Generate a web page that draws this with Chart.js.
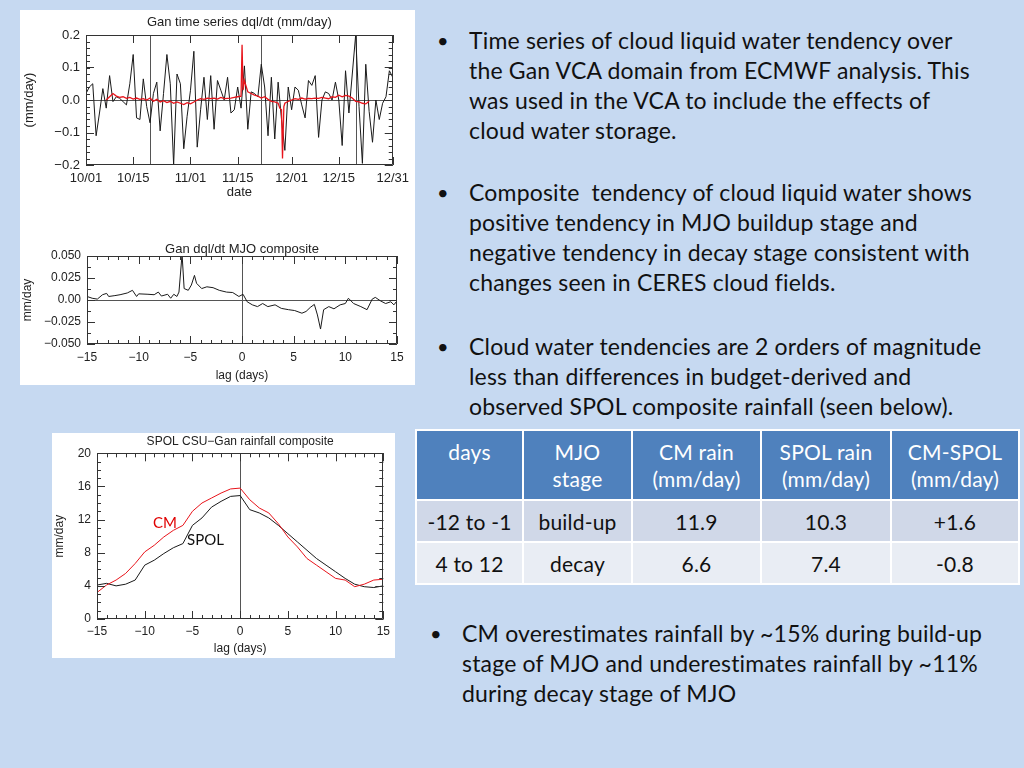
<!DOCTYPE html>
<html>
<head>
<meta charset="utf-8">
<script src="https://cdn.jsdelivr.net/npm/chart.js@4.4.1/dist/chart.umd.min.js"></script>
<style>
  html,body{margin:0;padding:0}
  body{width:1024px;height:768px;background:#c6d9f1;position:relative;overflow:hidden;
       font-family:Lato,"Open Sans",sans-serif;color:#111}
  .panel{position:absolute;background:#fff}
  canvas{position:absolute}
  .bul{position:absolute;font-size:23px;letter-spacing:0.18px;line-height:30px;white-space:nowrap}
  .bul .dot{position:absolute;left:-32px;top:0;font-size:20px}
  .lbl{position:absolute;font-size:15px;white-space:nowrap}
  table{position:absolute;left:415px;top:429px;border-collapse:collapse;table-layout:fixed;
        font-size:21px;letter-spacing:0.2px;text-align:center}
  td,th{border:2px solid #fff;padding:0}
  th{background:#4f81bd;color:#fff;font-weight:normal;vertical-align:top;height:70px;line-height:27px;padding-top:7px;box-sizing:border-box}
  tr.r1 td{background:#d0d8e8;height:40px}
  tr.r2 td{background:#e9edf4;height:40px}
</style>
</head>
<body>

<div class="panel" style="left:20px;top:10px;width:395px;height:375px">
  <canvas id="cTs" width="395" height="190" style="left:0;top:0"></canvas>
  <canvas id="cComp" width="395" height="150" style="left:0;top:225px"></canvas>
</div>

<div class="panel" style="left:52px;top:433px;width:343px;height:225px">
  <canvas id="cRain" width="343" height="225" style="left:0;top:0"></canvas>
  <span class="lbl" style="left:101px;top:80px;color:#e00000">CM</span>
  <span class="lbl" style="left:135px;top:97px;color:#111">SPOL</span>
</div>

<div class="bul" style="left:469px;top:25px"><span class="dot">•</span>Time series of cloud liquid water tendency over<br>the Gan VCA domain from ECMWF analysis. This<br>was used in the VCA to include the effects of<br>cloud water storage.</div>
<div class="bul" style="left:469px;top:177px"><span class="dot">•</span>Composite&nbsp; tendency of cloud liquid water shows<br>positive tendency in MJO buildup stage and<br>negative tendency in decay stage consistent with<br>changes seen in CERES cloud fields.</div>
<div class="bul" style="left:469px;top:331px"><span class="dot">•</span>Cloud water tendencies are 2 orders of magnitude<br>less than differences in budget-derived and<br>observed SPOL composite rainfall (seen below).</div>
<div class="bul" style="left:462px;top:618px"><span class="dot">•</span>CM overestimates rainfall by ~15% during build-up<br>stage of MJO and underestimates rainfall by ~11%<br>during decay stage of MJO</div>

<table>
  <colgroup><col style="width:107px"><col style="width:109px"><col style="width:129px"><col style="width:130px"><col style="width:128px"></colgroup>
  <tr><th>days</th><th>MJO<br>stage</th><th>CM rain<br>(mm/day)</th><th>SPOL rain<br>(mm/day)</th><th>CM-SPOL<br>(mm/day)</th></tr>
  <tr class="r1"><td>-12 to -1</td><td>build-up</td><td>11.9</td><td>10.3</td><td>+1.6</td></tr>
  <tr class="r2"><td>4 to 12</td><td>decay</td><td>6.6</td><td>7.4</td><td>-0.8</td></tr>
</table>

<script>
/* ---------- data ---------- */
// daily dql/dt at Gan, day 0 = 10/01 (black)
const tsValues = [0.02,0.04,0.05,-0.11,-0.04,0.035,-0.025,0.075,-0.005,0.01,
  0.005,-0.005,-0.015,0.05,0.14,-0.055,-0.06,0.065,-0.02,-0.07,
  0.02,0.055,-0.095,0.02,0.14,0.05,-0.2,0.08,0.05,-0.15,
  -0.05,0.03,0.15,-0.145,-0.03,0.07,-0.06,0.075,-0.09,0.06,
  0.03,0.0,0.07,-0.04,-0.03,0.04,-0.025,0.105,-0.09,0.025,
  0.02,0.01,0.11,0.04,-0.11,0.07,-0.12,0.055,-0.06,-0.155,
  0.04,-0.03,0.04,0.03,-0.015,-0.055,0.06,0.045,0.075,-0.115,
  0.0,0.025,0.02,0.0,0.055,0.0,-0.14,0.09,-0.04,0.08,
  0.2,-0.02,-0.195,0.11,-0.035,-0.13,0.0,-0.06,-0.01,0.01,
  0.09,0.07];
// red series (day, value)
const redDay = [6,7,8,9,10,11,12,13,14,15,16,17,18,19,20,21,22,23,24,25,
  26,27,28,29,30,31,32,33,34,35,36,37,38,39,40,41,42,43,44,45,
  46,46.3,46.6,47,48,49,50,51,52,53,54,55,56,57,57.5,58,58.3,58.7,59,60,
  61,62,63,64,65,66,67,68,69,70,71,72,73,74,75,76,77,78,79,80,
  81,82,83,84];
const redVal = [0.0,0.01,0.02,0.012,0.008,0.01,0.005,0.008,0.003,0.006,
  0.002,0.004,0.0,0.006,-0.004,0.002,-0.006,-0.002,-0.008,-0.004,
  -0.01,-0.006,-0.01,-0.014,-0.008,-0.012,-0.006,0.0,0.004,0.002,
  0.006,0.004,0.006,0.003,0.008,0.004,0.005,0.006,0.008,0.01,
  0.012,0.17,0.03,0.06,0.025,0.02,0.015,0.012,0.006,0.01,
  0.002,-0.004,-0.006,-0.01,-0.025,-0.03,-0.18,-0.02,-0.01,-0.004,
  0.0,0.004,0.002,0.006,0.003,0.005,0.004,0.006,0.005,0.008,
  0.006,0.004,0.01,0.008,0.015,0.01,0.014,0.012,0.006,-0.004,
  -0.006,-0.01,-0.012,-0.004];
const dateTickDays = [0,14,31,45,61,75,91];
const dateTickLabels = ['10/01','10/15','11/01','11/15','12/01','12/15','12/31'];
const tsRefDays = [19,52,80];

// MJO composite dql/dt
const compLag = [-15,-14.5,-14,-13.5,-13.1,-12.9,-12.3,-11.8,-11.1,-10.6,-10.2,-10,-9.1,-8.5,-8.1,-7.8,-7.2,-6.9,-6.6,-6.3,
  -6.1,-5.8,-5.6,-5.2,-4.9,-4.6,-4.4,-3.9,-3.4,-2.8,-2.2,-1.5,-0.9,-0.3,0.1,0.5,1,1.5,2,2.5,
  3.2,3.8,4.5,5.1,5.8,6.2,6.6,7,7.3,7.6,7.9,8.4,8.9,9.5,10,10.3,10.8,11.5,12.1,12.6,
  12.9,13.4,13.9,14.4,14.7,15];
const compVal = [0.004,0.002,0.001,0.006,0.0075,0.004,0.005,0.006,0.008,0.011,0.004,0.007,0.0065,0.006,0.009,0.0045,0.0065,0.002,0.0065,0.004,
  0.009,0.052,0.013,0.011,0.017,0.028,0.019,0.013,0.015,0.014,0.011,0.009,0.0085,0.004,0.0065,-0.002,-0.0055,-0.0075,-0.004,-0.0075,
  -0.0055,-0.0095,-0.011,-0.012,-0.015,-0.013,-0.0085,-0.005,-0.017,-0.033,-0.011,-0.0075,-0.01,-0.0055,-0.004,0.002,-0.004,-0.0075,-0.011,0.001,
  0.003,-0.001,-0.004,-0.002,-0.0055,-0.001];
const compYLabels = ['\u22120.050','\u22120.025','0.00','0.025','0.050'];

// SPOL / CM rainfall composite
const rainLag = [-15,-14,-13,-12,-11,-10,-9,-8,-7,-6,-5,-4,-3,-2,-1,0,1,2,3,4,5,6,7,8,9,10,11,12,13,14,15];
const cmRain = [3.2,4.1,4.7,5.5,6.7,8.1,8.9,9.9,10.7,11.3,13.0,14.0,14.6,15.2,15.7,15.8,14.4,13.4,12.8,11.5,9.9,8.7,7.3,6.5,5.7,4.9,4.7,3.9,4.2,4.7,4.8];
const spolRain = [4.1,4.3,4.0,4.2,4.7,6.5,7.1,7.9,8.6,9.1,11.3,12.2,13.5,14.2,14.8,14.9,13.2,12.8,12.2,11.3,10.3,9.3,8.3,7.3,6.5,5.7,4.9,4.2,3.9,3.8,4.0];

/* ---------- helpers ---------- */
const FONT = 'Liberation Sans';
const INK = '#222';
const minus = s => String(s).replace('-', '\u2212');
const pts = (xs, ys) => xs.map((x, i) => ({ x, y: ys[i] }));

// IDL-like frame: box, inward ticks on all sides, reference lines
const idlFrame = {
  id: 'idlFrame',
  beforeDatasetsDraw(chart, args, o){
    const { ctx, chartArea: a, scales: { x, y } } = chart;
    ctx.save();
    ctx.strokeStyle = '#555'; ctx.lineWidth = 1;
    ctx.beginPath();
    (o.xLines || []).forEach(v => { const p = Math.round(x.getPixelForValue(v)) + .5; ctx.moveTo(p, a.top); ctx.lineTo(p, a.bottom); });
    (o.yLines || []).forEach(v => { const p = Math.round(y.getPixelForValue(v)) + .5; ctx.moveTo(a.left, p); ctx.lineTo(a.right, p); });
    ctx.stroke();
    ctx.restore();
  },
  afterDatasetsDraw(chart, args, o){
    const { ctx, chartArea: a, scales: { x, y } } = chart;
    ctx.save();
    ctx.strokeStyle = '#333'; ctx.lineWidth = 1;
    ctx.beginPath();
    ctx.rect(Math.round(a.left) + .5, Math.round(a.top) + .5, Math.round(a.width) - 1, Math.round(a.height) - 1);
    const tx = (v, len) => { const p = Math.round(x.getPixelForValue(v)) + .5;
      ctx.moveTo(p, a.bottom); ctx.lineTo(p, a.bottom - len); ctx.moveTo(p, a.top); ctx.lineTo(p, a.top + len); };
    const ty = (v, len) => { const p = Math.round(y.getPixelForValue(v)) + .5;
      ctx.moveTo(a.left, p); ctx.lineTo(a.left + len, p); ctx.moveTo(a.right, p); ctx.lineTo(a.right - len, p); };
    x.ticks.forEach(t => tx(t.value, 8));
    y.ticks.forEach(t => ty(t.value, 8));
    if (o.xMinor){ const n = Math.round((x.max - x.min) / o.xMinor); for (let i = 0; i <= n; i++) tx(x.min + i * o.xMinor, 4); }
    if (o.yMinor){ const n = Math.round((y.max - y.min) / o.yMinor); for (let i = 0; i <= n; i++) ty(y.min + i * o.yMinor, 4); }
    ctx.stroke();
    ctx.restore();
  }
};

function axes(o){
  return {
    x: { type:'linear', min:o.xMin, max:o.xMax,
      grid:{ display:false, drawTicks:false }, border:{ display:false },
      afterBuildTicks: o.xTicks ? s => { s.ticks = o.xTicks.map(v => ({ value:v })); } : undefined,
      afterFit: s => { s.height = o.xH; },
      ticks:{ color:INK, font:{ family:FONT, size:o.fs }, padding:o.xPad, maxRotation:0, autoSkip:false,
        stepSize:o.xStep, callback:o.xCb },
      title:{ display:true, text:o.xTitle, color:INK, font:{ family:FONT, size:o.fs }, padding:{ top:0, bottom:o.xtPad } } },
    y: { type:'linear', min:o.yMin, max:o.yMax,
      grid:{ display:false, drawTicks:false }, border:{ display:false },
      afterBuildTicks: o.yTicks ? s => { s.ticks = o.yTicks.map(v => ({ value:v })); } : undefined,
      afterFit: s => { s.width = o.yW; },
      ticks:{ color:INK, font:{ family:FONT, size:o.fs }, padding:6, stepSize:o.yStep, callback:o.yCb },
      title:{ display:true, text:o.yTitle, color:INK, font:{ family:FONT, size:o.fs }, padding:{ top:o.ytPad, bottom:0 } } }
  };
}

function baseOpts(o){
  return {
    responsive:false, animation:false, devicePixelRatio:1,
    layout:{ padding:{ left:0, right:o.padR, top:0, bottom:0 } },
    plugins:{
      legend:{ display:false }, tooltip:{ enabled:false },
      title:{ display:true, fullSize:false, text:o.title, color:INK, font:{ family:FONT, size:o.tfs, weight:'normal' },
        padding:{ top:o.tTop, bottom:o.tBot } },
      idlFrame:{ xLines:o.xLines, yLines:o.yLines, xMinor:o.xMinor, yMinor:o.yMinor }
    },
    scales: axes(o)
  };
}

const line = (data, color, w) => ({ data, borderColor:color, borderWidth:w || 1, pointRadius:0, tension:0, fill:false });

/* ---------- chart 1: time series ---------- */
new Chart(document.getElementById('cTs'), {
  type:'line',
  data:{ datasets:[ line(pts(redDay, redVal), '#e8141b', 1.3), line(pts(tsValues.map((v, i) => i), tsValues), '#1a1a1a') ] },
  options: baseOpts({
    title:'Gan time series dql/dt (mm/day)', tfs:13, tTop:5, tBot:4.4, padR:18,
    xMin:0, xMax:91, xTicks:dateTickDays, xCb:(v, i) => dateTickLabels[i], xTitle:'date', xH:35, xPad:6, xtPad:0,
    yMin:-0.2, yMax:0.2, yStep:0.1, yCb:v => minus(v.toFixed(1)), yTitle:'(mm/day)', yW:66, ytPad:2,
    fs:13, xLines:tsRefDays, yLines:[0], yMinor:0.02
  }),
  plugins:[idlFrame]
});

/* ---------- chart 2: MJO composite ---------- */
new Chart(document.getElementById('cComp'), {
  type:'line',
  data:{ datasets:[ line(pts(compLag, compVal), '#1a1a1a') ] },
  options: baseOpts({
    title:'Gan dql/dt MJO composite', tfs:13, tTop:6.4, tBot:-1, padR:18,
    xMin:-15, xMax:15, xStep:5, xCb:v => minus(v), xTitle:'lag (days)', xH:41, xPad:6, xtPad:2,
    yMin:-0.05, yMax:0.05, yTicks:[-0.05,-0.025,0,0.025,0.05], yCb:(v, i) => compYLabels[i], yTitle:'mm/day', yW:67, ytPad:0,
    fs:12, xLines:[0], yLines:[0], xMinor:1, yMinor:0.0125
  }),
  plugins:[idlFrame]
});

/* ---------- chart 3: rainfall composite ---------- */
new Chart(document.getElementById('cRain'), {
  type:'line',
  data:{ datasets:[ line(pts(rainLag, cmRain), '#e8141b'), line(pts(rainLag, spolRain), '#1a1a1a') ] },
  options: baseOpts({
    title:'SPOL CSU\u2212Gan rainfall composite', tfs:12, tTop:1.5, tBot:4.4, padR:8,
    xMin:-15, xMax:15, xStep:5, xCb:v => minus(v), xTitle:'lag (days)', xH:39, xPad:5, xtPad:2,
    yMin:0, yMax:20, yStep:4, yCb:v => v, yTitle:'mm/day', yW:45, ytPad:0,
    fs:12, xLines:[0], xMinor:1, yMinor:1
  }),
  plugins:[idlFrame]
});
</script>
</body>
</html>
